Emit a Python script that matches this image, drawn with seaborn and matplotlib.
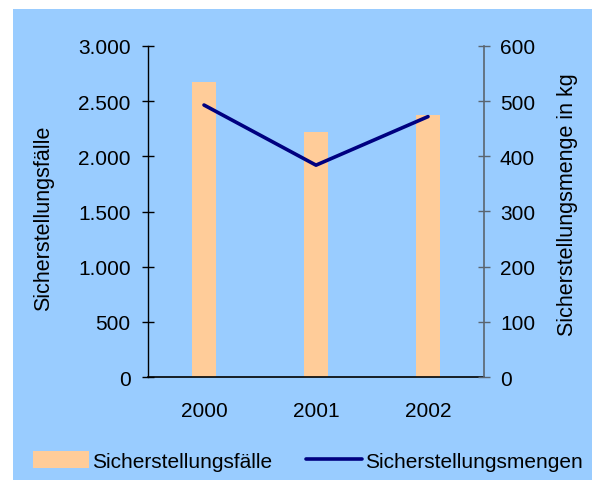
import numpy as np
import pandas as pd
import matplotlib
matplotlib.use("Agg")
import matplotlib.pyplot as plt
from matplotlib.patches import Rectangle, Patch
from matplotlib.lines import Line2D
from matplotlib.ticker import FuncFormatter
import seaborn as sns

# Data
years = ["2000", "2001", "2002"]
faelle = [2675, 2220, 2378]        # Sicherstellungsfälle (left axis)
mengen = [493, 384, 472]           # Sicherstellungsmengen in kg (right axis)

bar_color = "#FFCC99"
line_color = "#000080"
bg_color = "#99CCFF"

sns.set_style("white")
plt.rcParams["font.family"] = ["Liberation Sans", "DejaVu Sans"]
plt.rcParams["font.size"] = 15
for k in ["text.color", "axes.labelcolor", "xtick.color", "ytick.color"]:
    plt.rcParams[k] = "black"

df = pd.DataFrame({"Jahr": years, "Faelle": faelle, "Mengen": mengen})

fig = plt.figure(figsize=(5.92, 4.81), dpi=100)
fig.patch.set_facecolor("white")
# blue chart area (white strip on top and left)
fig.patches.append(Rectangle((13 / 592, 0), 1, 471 / 481, transform=fig.transFigure,
                             facecolor=bg_color, edgecolor="none", zorder=-10))

ax = fig.add_axes([148 / 592, 1 - 378 / 481, 336 / 592, 331 / 481])
ax.set_facecolor("none")

sns.barplot(data=df, x="Jahr", y="Faelle", color=bar_color, width=0.22,
            saturation=1, linewidth=0, edgecolor="none", ax=ax, zorder=2)
ax.set_xlim(-0.5, 2.5)
ax.set_ylim(0, 3000)
ax.set_yticks(np.arange(0, 3001, 500))
ax.yaxis.set_major_formatter(FuncFormatter(lambda v, p: f"{v:,.0f}".replace(",", ".")))

ax2 = ax.twinx()
sns.lineplot(x=np.arange(len(years)), y=mengen, color=line_color, linewidth=2.6,
             ax=ax2, zorder=3)
ax2.set_ylim(0, 600)
ax2.set_yticks(np.arange(0, 601, 100))

# x ticks at category boundaries, labels at centers
ax.set_xticks([-0.5, 0.5, 1.5, 2.5])
ax.set_xticklabels([])
ax.set_xticks([0, 1, 2], minor=True)
ax.set_xticklabels(years, minor=True)
ax.tick_params(axis="x", which="major", direction="inout", length=9, width=1, color="black")
ax.tick_params(axis="x", which="minor", length=0, pad=17, labelsize=15)
ax.set_xlabel("")

ax.tick_params(axis="y", direction="inout", length=9, width=1, color="black",
               pad=8, labelsize=15, left=True)
ax2.tick_params(axis="y", direction="inout", length=9, width=1, color="#5a6570",
                pad=7, labelsize=15, right=True)

for s in ["top", "right"]:
    ax.spines[s].set_visible(False)
for s in ["top", "left", "bottom"]:
    ax2.spines[s].set_visible(False)
ax.spines["left"].set_color("black")
ax.spines["bottom"].set_color("black")
ax2.spines["right"].set_color("#5a6570")
ax2.spines["right"].set_linewidth(1.2)
ax.spines["left"].set_linewidth(1)
ax.spines["bottom"].set_linewidth(1.2)

ax.set_ylabel("Sicherstellungsfälle", fontsize=15.5, labelpad=17, y=0.483)
ax2.set_ylabel("Sicherstellungsmenge in kg", fontsize=15.5, labelpad=16, y=0.525)

handles = [Patch(facecolor=bar_color, edgecolor="none"),
           Line2D([0], [0], color=line_color, linewidth=2.6)]
fig.legend(handles, ["Sicherstellungsfälle", "Sicherstellungsmengen"],
           loc="center", bbox_to_anchor=(308 / 592, 1 - 462 / 481), ncol=2,
           frameon=False, fontsize=15, handlelength=2.7, handleheight=0.9,
           handletextpad=0.15, columnspacing=1.6, borderaxespad=0)

fig.savefig("out.png", dpi=100)
